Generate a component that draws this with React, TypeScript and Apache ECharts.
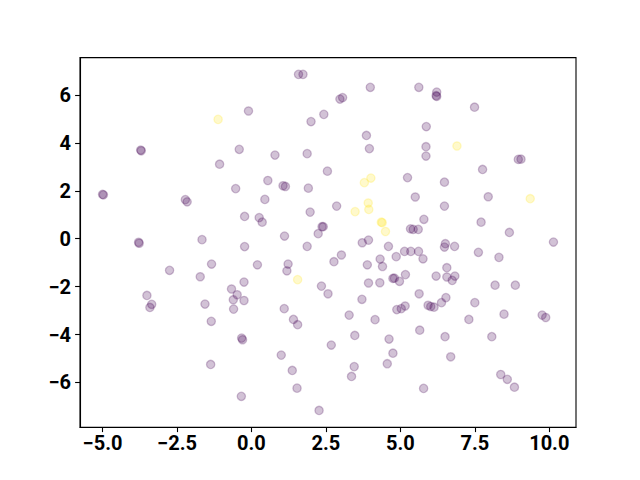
import React, { useEffect, useRef } from "react";
import * as echarts from "echarts";

// Points (x, y)
const purpleX = [
  1.58, 1.73, 3.99, 5.62, 6.22, 6.2, 6.22, 2.97, 3.06, 7.49, -0.1, 2.43, 2.0, 5.87, 3.86,
  -3.72, -3.7, -0.41, 3.96, 5.86, 5.86, 0.79, 1.87, -1.07, 8.96, 9.05, 7.76, 2.55, 0.55, 1.06,
  1.14, 1.91, 5.24, 6.48, -5.0, -4.97, -0.53, -2.22, -2.16, 0.45, 5.5, 7.95, 2.86, 1.97, 6.48,
  -0.23, 0.26, 0.36, 5.79, 7.71, 2.37, 2.41, 2.24, 1.11, 5.34, 5.43, 5.6, 8.66, 10.14, -3.79,
  -3.77, -1.66, -0.23, 1.87, 3.72, 3.93, 4.6, 6.51, 6.48, 6.82, 7.62, 8.31, 5.14, 5.35, 5.61,
  5.76, 0.2, 1.23, 1.19, 2.77, 3.02, 3.89, 4.32, 4.4, 4.86, -2.75, -1.34, -1.72, 6.56, 6.2,
  6.56, 6.83, 6.74, -0.25, 2.35, 3.93, 4.31, 4.75, 4.8, 4.97, 5.17, 8.18, 8.86, -0.67, -0.48,
  -0.61, -0.25, -0.6, 2.57, -3.51, 5.63, 6.53, 6.38, 7.5, 3.71, -3.35, -3.41, -1.56, 5.93, 6.02,
  6.13, 4.88, 5.03, 5.16, 1.1, 8.48, 3.28, 9.76, 9.88, -1.35, 1.41, 1.55, 4.15, 7.3, 5.65,
  3.47, 6.5, 8.07, -0.33, -0.3, 4.62, 2.68, 4.75, 1.0, 6.69, -1.37, 3.45, 3.36, 4.56, 1.37,
  8.37, 8.59, 8.83, 1.53, 5.78, -0.34, 2.27,
];
const purpleY = [
  6.86, 6.86, 6.32, 6.32, 6.12, 5.97, 5.94, 5.83, 5.89, 5.49, 5.33, 5.19, 4.89, 4.68, 4.31,
  3.7, 3.67, 3.73, 3.76, 3.84, 3.45, 3.49, 3.55, 3.11, 3.31, 3.32, 2.89, 2.82, 2.43, 2.21,
  2.18, 2.11, 2.55, 2.36, 1.85, 1.83, 2.09, 1.63, 1.54, 1.64, 1.74, 1.75, 1.36, 1.11, 1.36,
  0.93, 0.88, 0.69, 0.81, 0.69, 0.5, 0.5, 0.21, 0.11, 0.41, 0.39, 0.39, 0.26, -0.14, -0.15,
  -0.19, -0.04, -0.33, -0.32, -0.17, -0.06, -0.32, -0.21, -0.35, -0.32, -0.57, -0.78, -0.53, -0.53, -0.53,
  -0.84, -1.09, -1.06, -1.34, -0.96, -0.68, -1.09, -0.85, -1.16, -0.75, -1.32, -1.06, -1.59, -1.21, -1.56,
  -1.6, -1.56, -1.74, -1.81, -1.98, -1.85, -1.84, -1.66, -1.65, -1.78, -1.5, -1.94, -1.94, -2.1, -2.34,
  -2.55, -2.58, -2.94, -2.3, -2.37, -2.3, -2.46, -2.67, -2.67, -2.53, -2.74, -2.87, -2.73, -2.78, -2.83,
  -2.86, -2.96, -2.92, -2.81, -2.92, -3.15, -3.19, -3.19, -3.29, -3.45, -3.37, -3.59, -3.38, -3.37, -3.82,
  -4.04, -4.09, -4.09, -4.15, -4.22, -4.19, -4.44, -4.78, -4.86, -4.93, -5.25, -5.34, -5.75, -5.22, -5.5,
  -5.67, -5.87, -6.2, -6.24, -6.25, -6.58, -7.17,
];
const yellowX = [-1.12, 3.79, 4.01, 3.92, 3.94, 3.48, 4.36, 4.39, 4.5, 6.9, 9.36, 1.55];
const yellowY = [4.98, 2.34, 2.53, 1.49, 1.22, 1.13, 0.69, 0.67, 0.3, 3.87, 1.67, -1.71];

const xTicks = [-5, -2.5, 0, 2.5, 5, 7.5, 10];
const yTicks = [-6, -4, -2, 0, 2, 4, 6];
const xRange = [-5.757, 10.897];
const yRange = [-7.87, 7.56];

const fmt = (d: number) => (v: number) => v.toFixed(d).replace("-", "\u2212");

export default function App() {
  const ref = useRef<HTMLDivElement>(null);
  useEffect(() => {
    if (!ref.current) return;
    const chart = echarts.init(ref.current, null, { renderer: "svg" });
    const labelStyle = {
      color: "#000",
      fontFamily: "Roboto",
      fontWeight: "bold" as const,
      fontSize: 20,
    };
    const axisCommon = {
      axisLine: { show: true, onZero: false, lineStyle: { color: "#000", width: 1.1 } },
      splitLine: { show: false },
    };
    const purpleData = purpleX.map((x, i) => [x, purpleY[i]]);
    const yellowData = yellowX.map((x, i) => [x, yellowY[i]]);
    chart.setOption({
      animation: false,
      backgroundColor: "#fff",
      grid: {
        left: 80,
        top: 57.6,
        right: 64,
        bottom: 52.8,
        show: true,
        borderColor: "#000",
        borderWidth: 1.1,
        backgroundColor: "transparent",
      },
      xAxis: {
        type: "value",
        min: xRange[0],
        max: xRange[1],
        ...axisCommon,
        axisTick: {
          show: true,
          inside: false,
          length: 4.9,
          customValues: xTicks,
          lineStyle: { color: "#000", width: 1.1 },
        },
        axisLabel: { ...labelStyle, margin: 6, customValues: xTicks, formatter: fmt(1) },
      },
      yAxis: {
        type: "value",
        min: yRange[0],
        max: yRange[1],
        ...axisCommon,
        axisTick: {
          show: true,
          inside: false,
          length: 4.9,
          customValues: yTicks,
          lineStyle: { color: "#000", width: 1.1 },
        },
        axisLabel: { ...labelStyle, margin: 9, customValues: yTicks, formatter: fmt(0) },
      },
      series: [
        {
          type: "scatter",
          data: purpleData,
          symbolSize: 8.3,
          itemStyle: {
            color: "rgba(68,1,84,0.3)",
            borderColor: "rgba(68,1,84,0.3)",
            borderWidth: 1.3,
          },
        },
        {
          type: "scatter",
          data: yellowData,
          symbolSize: 8.3,
          itemStyle: {
            color: "rgba(253,231,37,0.3)",
            borderColor: "rgba(253,231,37,0.3)",
            borderWidth: 1.3,
          },
        },
      ],
    });
    return () => chart.dispose();
  }, []);
  return (
    <div
      ref={ref}
      style={{ position: "fixed", left: 0, top: 0, width: 640, height: 480 }}
    />
  );
}
